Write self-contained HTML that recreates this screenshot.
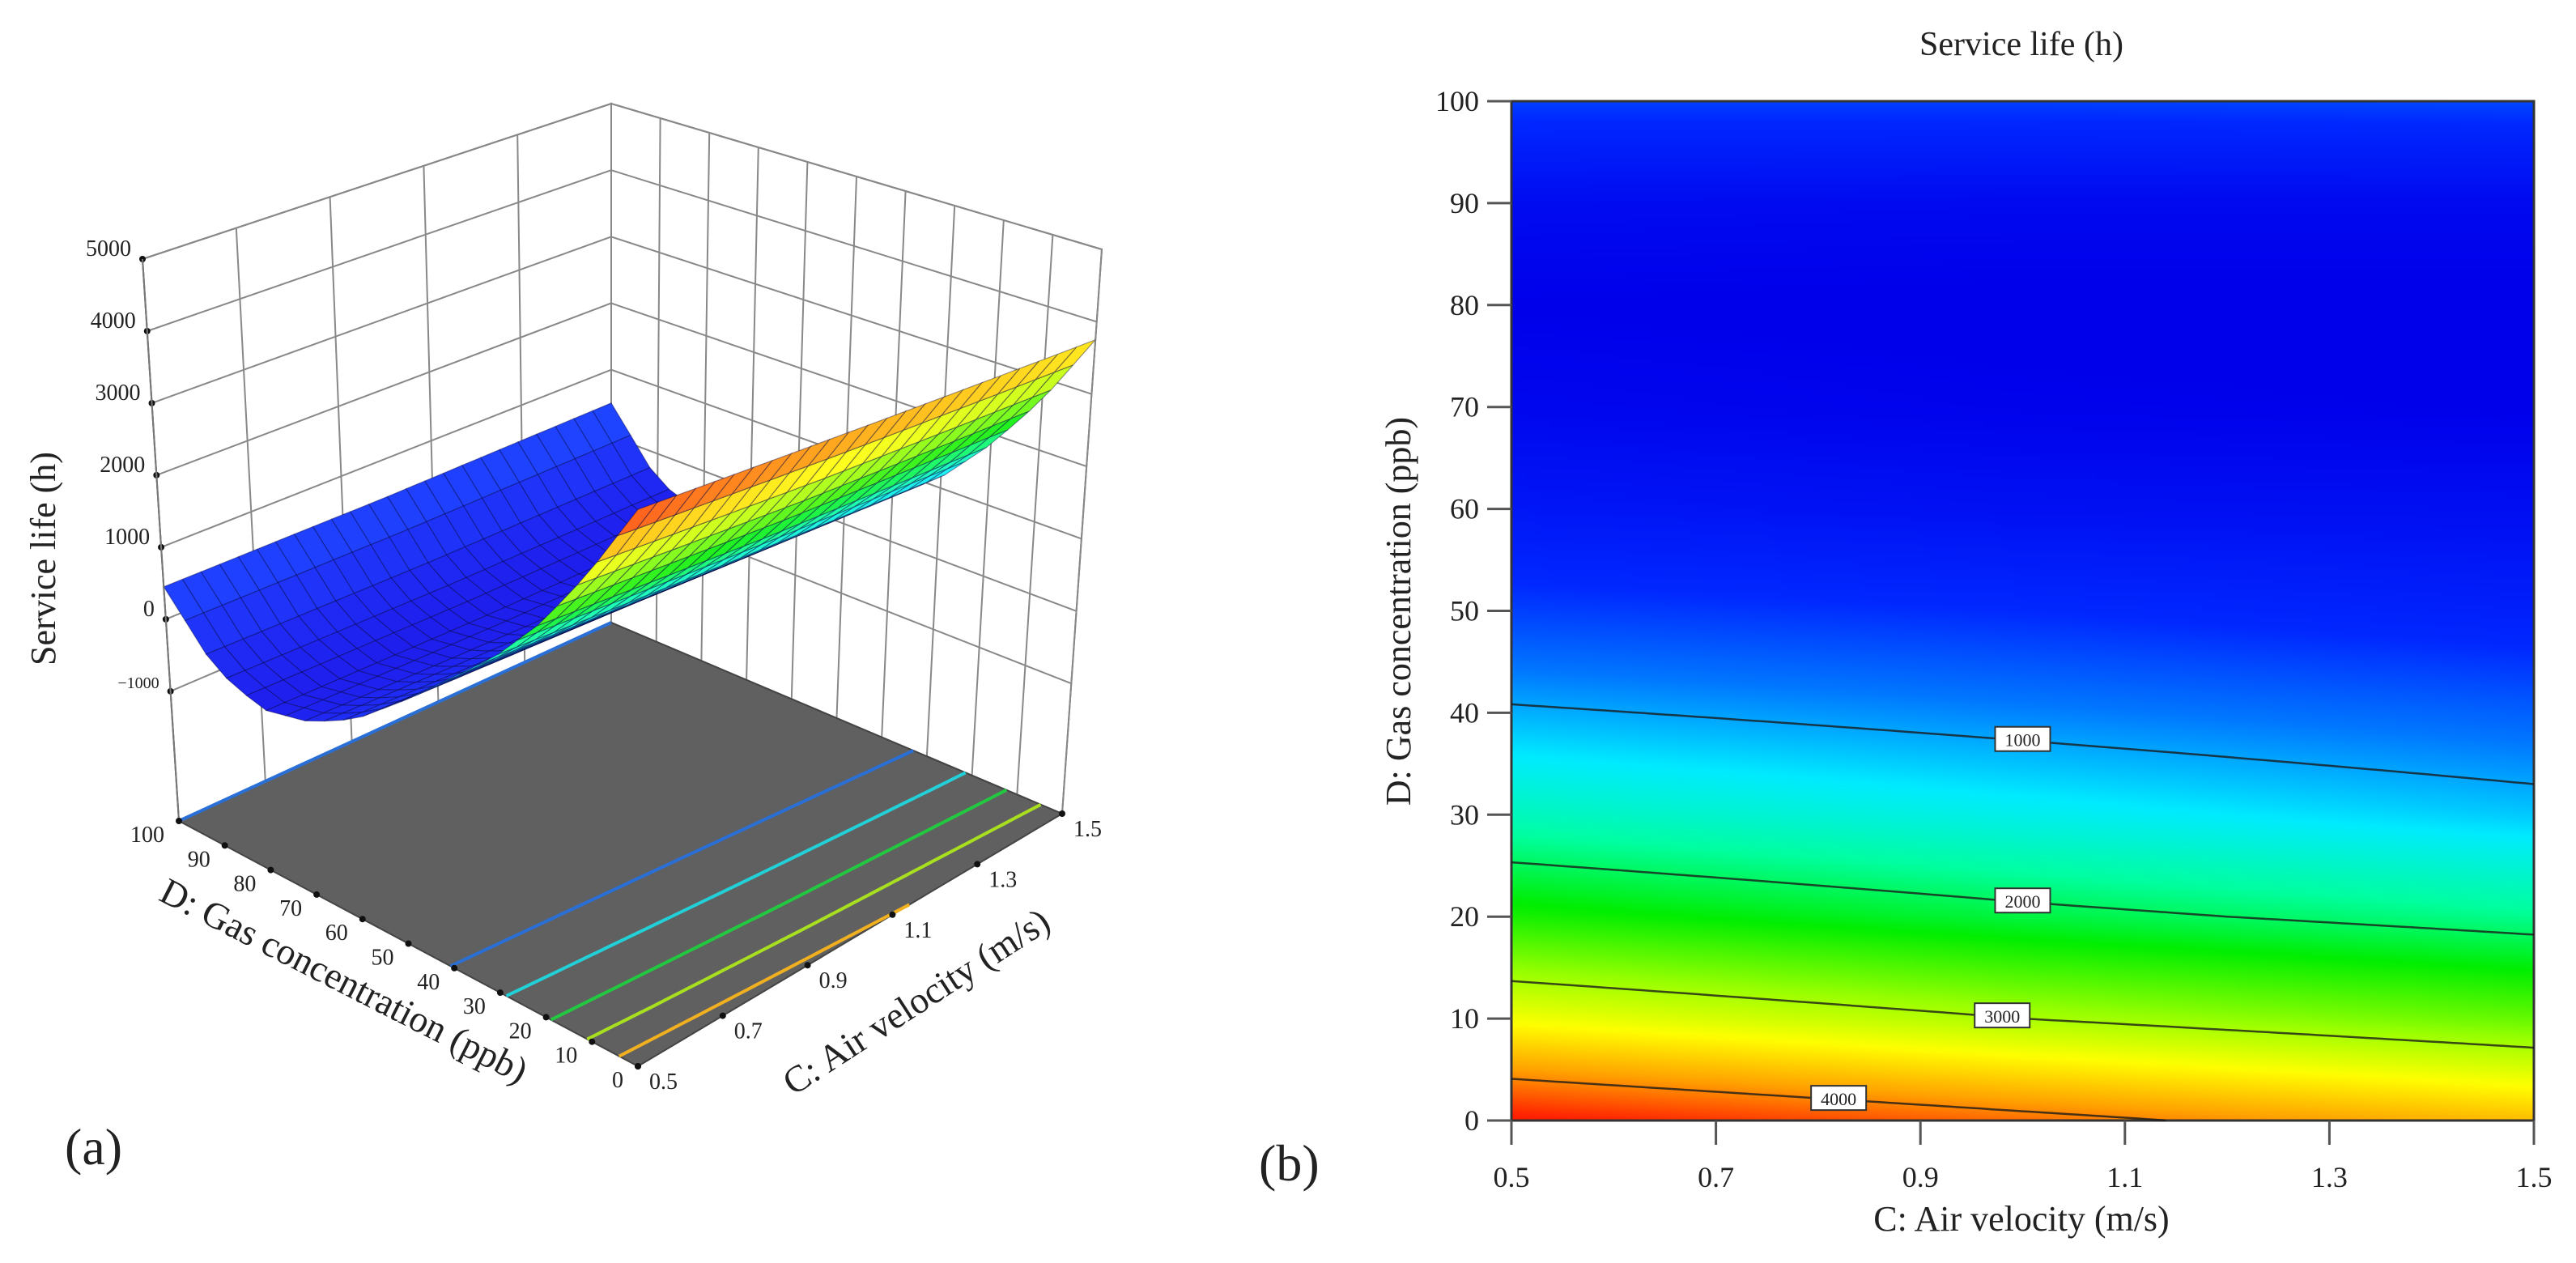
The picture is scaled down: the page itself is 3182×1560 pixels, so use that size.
<!DOCTYPE html>
<html><head><meta charset="utf-8">
<style>
html,body{margin:0;padding:0;background:#fff;}
#wrap{position:relative;width:3182px;height:1560px;overflow:hidden;background:#fff;}
#heat{position:absolute;left:1867px;top:125px;width:1263px;height:1259px;}
#svg{position:absolute;left:0;top:0;}
text{font-family:"Liberation Serif",serif;fill:#222;}
</style></head>
<body>
<div id="wrap">
<canvas id="heat" width="120" height="240"></canvas>
<svg id="svg" width="3182" height="1560" xmlns="http://www.w3.org/2000/svg">
<g id="g3d"></g>
<g id="g2d"></g>
</svg>
</div>
<script>
// ---- data ----
const cValues = [0.5, 1.0, 1.5];
const dValues = [0,10,20,30,40,50,60,70,80,90,100];
const lifeAtC05 = [4450,3350,2400,1650,1050,450,-100,-450,-600,-350,450];
const lifeAtC10 = [4100,3000,2100,1400,850,300,-250,-550,-650,-400,450];
const lifeAtC15 = [3750,2700,1850,1150,650,100,-300,-600,-650,-400,500];
const contourLevels = [1000,2000,3000,4000];
const contourLabelC = [1.0,1.0,0.98,0.82];
const floorLevels = [1000,1750,2500,3250,4000];
const floorColors = ['#2a6fd6','#22d0d8','#22c840','#a8e020','#f0b020'];
const xTicks = [0.5,0.7,0.9,1.1,1.3,1.5];
const yTicks = [0,10,20,30,40,50,60,70,80,90,100];
const zTicks = [-1000,0,1000,2000,3000,4000,5000];
const dTicks3d = [0,10,20,30,40,50,60,70,80,90,100];
const cTicks3d = [0.5,0.7,0.9,1.1,1.3,1.5];

const cols=[lifeAtC05,lifeAtC10,lifeAtC15];
function colAt(arr,D){
  let i=Math.min(Math.floor(D/10),dValues.length-2); if(i<0)i=0;
  const t=(D-dValues[i])/(dValues[i+1]-dValues[i]);
  return arr[i]+(arr[i+1]-arr[i])*t;
}
function val(C,D){
  let j=C<=1.0?0:1; const t=(C-cValues[j])/(cValues[j+1]-cValues[j]);
  return colAt(cols[j],D)*(1-t)+colAt(cols[j+1],D)*t;
}
const stops=[[-600,[0,0,235]],[300,[0,40,255]],[800,[0,120,255]],[1300,[0,235,255]],[1800,[0,255,160]],[2300,[0,238,0]],[2900,[150,255,0]],[3400,[255,255,0]],[3900,[255,160,0]],[4400,[255,30,0]]];
function cmap(v){
  if(v<=stops[0][0])return stops[0][1];
  for(let i=0;i<stops.length-1;i++){
    if(v<=stops[i+1][0]){const t=(v-stops[i][0])/(stops[i+1][0]-stops[i][0]);
      return stops[i][1].map((a,k)=>Math.round(a+(stops[i+1][1][k]-a)*t));}
  }
  return stops[stops.length-1][1];
}
function findD(C,level){
  for(let D=0;D<100;D+=0.5){const a=val(C,D),b=val(C,D+0.5);
    if((a-level)*(b-level)<=0&&a!==b)return D+0.5*(a-level)/(a-b);}
  return null;
}
const NS='http://www.w3.org/2000/svg';
function mk(parent,tag,attrs){const e=document.createElementNS(NS,tag);for(const k in attrs)e.setAttribute(k,attrs[k]);parent.appendChild(e);return e;}

// ---- contour plot (b) ----
const px0=1867,px1=3130,py0=125,py1=1384;
const sx=C=>px0+(C-0.5)/1.0*(px1-px0);
const sy=D=>py1-D/100*(py1-py0);
(function(){
  const cv=document.getElementById('heat');const ctx=cv.getContext('2d');
  const img=ctx.createImageData(cv.width,cv.height);
  for(let y=0;y<cv.height;y++)for(let x=0;x<cv.width;x++){
    const C=0.5+(x+0.5)/cv.width, D=100-(y+0.5)/cv.height*100;
    const c=cmap(val(C,D));const o=(y*cv.width+x)*4;
    img.data[o]=c[0];img.data[o+1]=c[1];img.data[o+2]=c[2];img.data[o+3]=255;}
  ctx.putImageData(img,0,0);
  const g=document.getElementById('g2d');
  let r=mk(g,'rect',{x:px0,y:py0,width:px1-px0,height:py1-py0,fill:'none',stroke:'#333','stroke-width':3});
  
  
  contourLevels.forEach((lv,i)=>{
    let pts=[];
    for(let C=0.5;C<=1.5001;C+=0.01){const D=findD(C,lv);if(D===null)break;pts.push(sx(C).toFixed(1)+','+sy(D).toFixed(1));}
    const pl=mk(g,'polyline',{points:pts.join(' '),fill:'none',stroke:'#1a1a1a','stroke-width':2.5,opacity:0.8});
    
    
    const C=contourLabelC[i],D=findD(C,lv);
    if(D!==null){
      const lb=mk(g,'rect',{x:sx(C)-34,y:sy(D)-17,width:68,height:30,fill:'#fff',stroke:'#333','stroke-width':2});
      
      
      const t=mk(g,'text',{x:sx(C),y:sy(D)+7,'text-anchor':'middle','font-size':22});t.textContent=lv;
      
      
    }
  });
  xTicks.forEach(v=>{
    mk(g,'line',{x1:sx(v),x2:sx(v),y1:py1,y2:py1+30,stroke:'#555','stroke-width':3});
    const t=mk(g,'text',{x:sx(v),y:1466,'text-anchor':'middle','font-size':36});t.textContent=v.toFixed(1);
    
    
  });
  yTicks.forEach(v=>{
    mk(g,'line',{x1:px0-30,x2:px0,y1:sy(v),y2:sy(v),stroke:'#555','stroke-width':3});
    const t=mk(g,'text',{x:px0-40,y:sy(v)+12,'text-anchor':'end','font-size':36});t.textContent=v;
    
    
  });
  let t=mk(g,'text',{x:2497,y:68,'text-anchor':'middle','font-size':42});t.textContent='Service life (h)';
  
  
  t=mk(g,'text',{x:2497,y:1520,'text-anchor':'middle','font-size':44});t.textContent='C: Air velocity (m/s)';
  
  
  t=mk(g,'text',{x:0,y:0,'text-anchor':'middle','font-size':44,transform:'translate(1742,755) rotate(-90)'});t.textContent='D: Gas concentration (ppb)';
  
  
  t=mk(g,'text',{x:1555,y:1458,'font-size':64});t.textContent='(b)';
  
  
})();

// ---- 3D surface plot (a) ----
(function(){
  const g=document.getElementById('g3d');
  const F=[788,1317],R=[1312,1005],L=[221,1014],B=[755,769];
  const uF=[0,-740],uR=[49,-697],uL=[-45,-694],uB=[0,-641];
  const zf=-2800,zt=5000;
  function bil(a,b,c,d,u,v){return [0,1].map(k=>a[k]*(1-u)*(1-v)+b[k]*u*(1-v)+c[k]*(1-u)*v+d[k]*u*v);}
  function P(C,D,z){const u=C-0.5,v=D/100,t=(z-zf)/(zt-zf);
    const f=bil(F,R,L,B,u,v),up=bil(uF,uR,uL,uB,u,v);return [f[0]+up[0]*t,f[1]+up[1]*t];}
  const s=p=>p[0].toFixed(1)+','+p[1].toFixed(1);
  const wl=mk(g,'polygon',{points:[P(0.5,100,zf),P(1.5,100,zf),P(1.5,100,zt),P(0.5,100,zt)].map(s).join(' '),fill:'#fff',stroke:'#777','stroke-width':2});
  
  
  const wr=mk(g,'polygon',{points:[P(1.5,100,zf),P(1.5,0,zf),P(1.5,0,zt),P(1.5,100,zt)].map(s).join(' '),fill:'#fff',stroke:'#777','stroke-width':2});
  
  
  for(let C=0.5;C<=1.5001;C+=0.2){mk(g,'line',{x1:P(C,100,zf)[0],y1:P(C,100,zf)[1],x2:P(C,100,zt)[0],y2:P(C,100,zt)[1],stroke:'#888','stroke-width':2});}
  for(let D=0;D<=100;D+=10){mk(g,'line',{x1:P(1.5,D,zf)[0],y1:P(1.5,D,zf)[1],x2:P(1.5,D,zt)[0],y2:P(1.5,D,zt)[1],stroke:'#888','stroke-width':2});}
  zTicks.forEach(z=>{
    mk(g,'polyline',{points:[P(0.5,100,z),P(1.5,100,z),P(1.5,0,z)].map(s).join(' '),fill:'none',stroke:'#888','stroke-width':2});
    const p=P(0.5,100,z);
    mk(g,'circle',{cx:p[0],cy:p[1],r:4,fill:'#111'});
    const t=mk(g,'text',{x:p[0]-14,y:p[1]-4,'text-anchor':'end','font-size':z===-1000?20:28});t.textContent=z===-1000?'−1000':z;
    
    
  });
  const fl=mk(g,'polygon',{points:[P(0.5,0,zf),P(1.5,0,zf),P(1.5,100,zf),P(0.5,100,zf)].map(s).join(' '),fill:'#606060',stroke:'#444','stroke-width':2});
  
  
  mk(g,'line',{x1:P(0.5,100,zf)[0],y1:P(0.5,100,zf)[1],x2:P(1.5,100,zf)[0],y2:P(1.5,100,zf)[1],stroke:'#2a6fd6','stroke-width':4});
  floorLevels.forEach((lv,i)=>{
    let pts=[];
    for(let C=0.5;C<=1.5001;C+=0.02){const D=findD(C,lv);if(D===null)break;pts.push(s(P(C,D,zf)));}
    const pl=mk(g,'polyline',{points:pts.join(' '),fill:'none',stroke:floorColors[i],'stroke-width':4});
    
    
  });
  const N=24,quads=[];
  for(let i=0;i<N;i++)for(let j=0;j<N;j++){
    const C0=0.5+i/N,C1=0.5+(i+1)/N,D0=j*100/N,D1=(j+1)*100/N;
    const zs=[val(C0,D0),val(C1,D0),val(C1,D1),val(C0,D1)];
    quads.push({key:(i+j),pts:[P(C0,D0,zs[0]),P(C1,D0,zs[1]),P(C1,D1,zs[2]),P(C0,D1,zs[3])],v:(zs[0]+zs[1]+zs[2]+zs[3])/4});
  }
  quads.sort((a,b)=>b.key-a.key);
  const sg=mk(g,'g',{});
  
  
  quads.forEach(q=>{const c=cmap(q.v).map(x=>Math.round(x*0.88+255*0.12));
    mk(sg,'polygon',{points:q.pts.map(s).join(' '),fill:'rgb('+c.join(',')+')',stroke:'rgba(0,0,60,0.4)','stroke-width':1.2});});
  mk(g,'line',{x1:P(0.5,100,zf)[0],y1:P(0.5,100,zf)[1],x2:P(0.5,100,zt)[0],y2:P(0.5,100,zt)[1],stroke:'#777','stroke-width':2});
  dTicks3d.forEach(D=>{const p=P(0.5,D,zf);mk(g,'circle',{cx:p[0],cy:p[1],r:4,fill:'#111'});
    const t=mk(g,'text',{x:p[0]-18,y:p[1]+26,'text-anchor':'end','font-size':28});t.textContent=D;
    
    });
  cTicks3d.forEach(C=>{const p=P(C,0,zf);mk(g,'circle',{cx:p[0],cy:p[1],r:4,fill:'#111'});
    const t=mk(g,'text',{x:p[0]+14,y:p[1]+28,'font-size':28});t.textContent=C.toFixed(1);
    
    });
  let t=mk(g,'text',{x:0,y:0,'text-anchor':'middle','font-size':46,transform:'translate(418,1225) rotate(27)'});t.textContent='D: Gas concentration (ppb)';
  
  
  t=mk(g,'text',{x:0,y:0,'text-anchor':'middle','font-size':46,transform:'translate(1140,1250) rotate(-33)'});t.textContent='C: Air velocity (m/s)';
  
  
  t=mk(g,'text',{x:0,y:0,'text-anchor':'middle','font-size':44,transform:'translate(68,690) rotate(-90)'});t.textContent='Service life (h)';
  
  
  t=mk(g,'text',{x:80,y:1438,'font-size':64});t.textContent='(a)';
  
  
})();
</script>
</body></html>
